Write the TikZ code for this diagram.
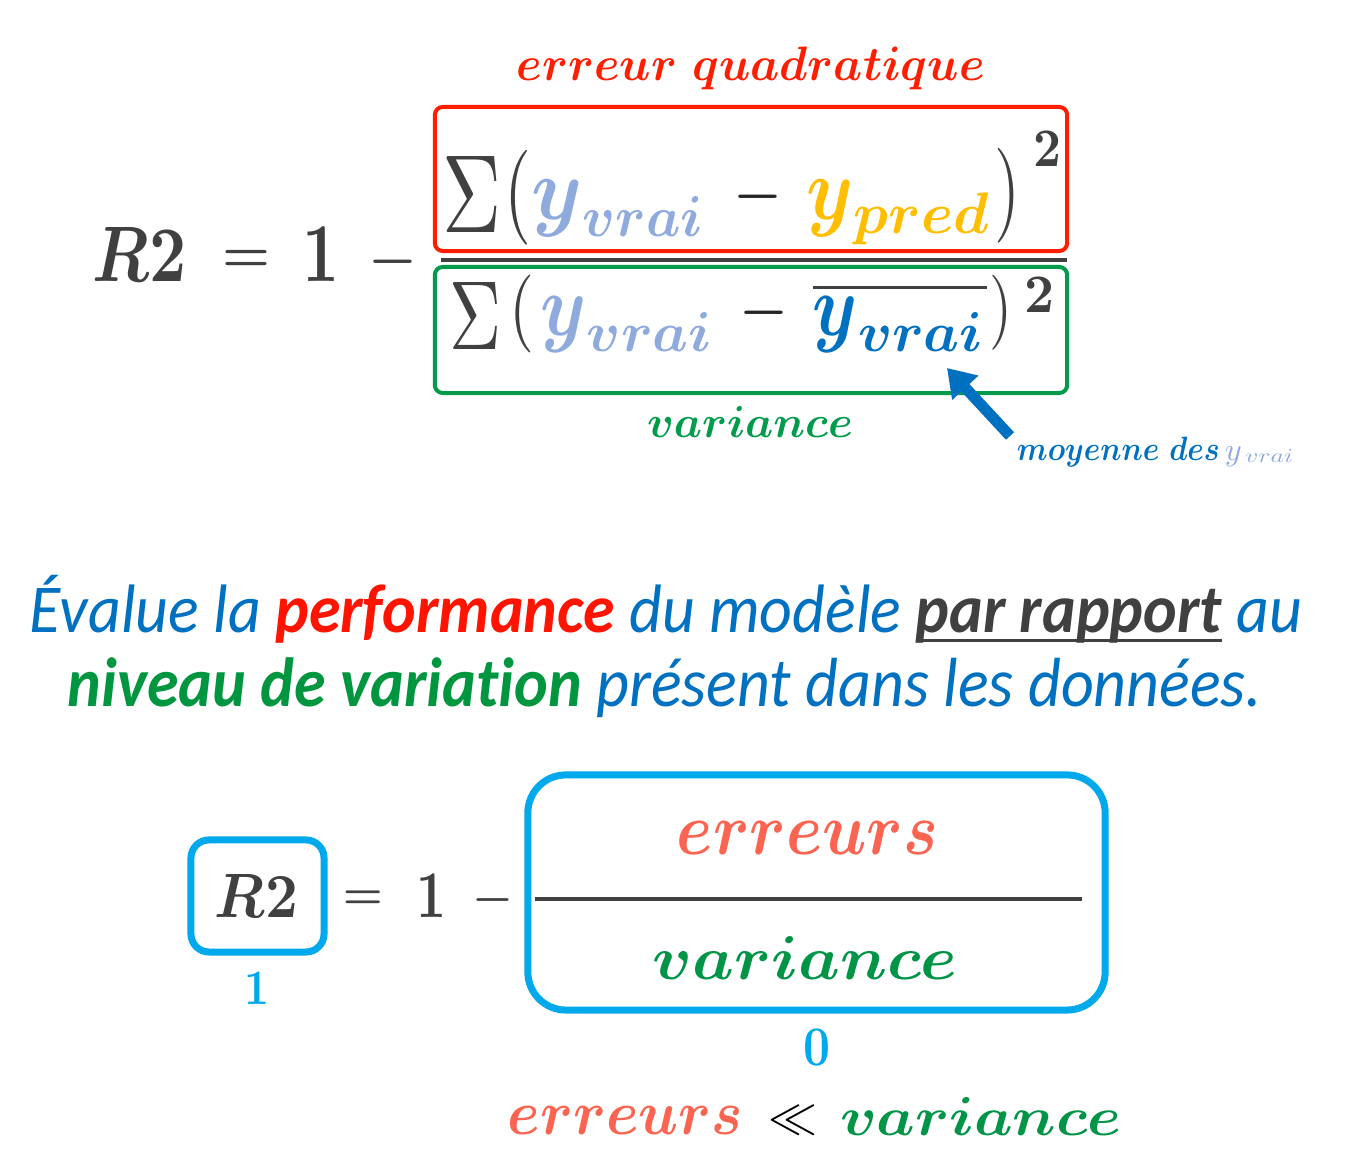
\documentclass[tikz,border=0pt]{standalone}
\usepackage{fontspec}
\usepackage{graphicx}
\usetikzlibrary{arrows.meta}
\newfontfamily\parafont[Ligatures=NoCommon]{Carlito}

% one unit of the drawing grid
\newlength\pxu \setlength\pxu{0.01cm}
% scale a piece of text to a given ink width and total height (in grid units)
\newcommand\fitto[3]{\resizebox*{#1\pxu}{#2\pxu}{#3}}
% scale a symbol to a given width, keeping its proportions
\newcommand\widthto[2]{\resizebox{#1\pxu}{!}{#2}}
\newcommand\bmath[1]{{\boldmath$#1$}}
% underlined word with a heavier rule than \underline
\newcommand\ulword[1]{\setbox0=\hbox{#1}\rlap{\rule[-0.15em]{\wd0}{0.055em}}\box0}

\definecolor{ink}{RGB}{64,64,64}
\definecolor{qred}{RGB}{255,30,0}
\definecolor{vgreen}{RGB}{0,155,75}
\definecolor{ylight}{RGB}{143,170,220}
\definecolor{ygold}{RGB}{255,190,0}
\definecolor{ydark}{RGB}{0,112,192}
\definecolor{tblue}{RGB}{0,112,192}
\definecolor{pred}{RGB}{255,20,0}
\definecolor{pgreen}{RGB}{0,150,64}
\definecolor{sky}{RGB}{0,168,236}
\definecolor{salmon}{RGB}{250,100,80}
\definecolor{bgreen}{RGB}{0,148,70}

\begin{document}
\begin{tikzpicture}[x=0.01cm,y=-0.01cm,
  g/.style={inner sep=0pt,outer sep=0pt},
  termbox/.style={draw,rectangle,inner sep=0pt,line width=0.04cm,rounded corners=0.08cm},
  skybox/.style={draw=sky,rectangle,inner sep=0pt,line width=0.07cm},
  fracline/.style={draw=ink,line width=0.04cm},
  meanarrow/.style={draw=ydark,line width=0.11cm,-{Triangle[length=0.27cm,width=0.34cm]}}]

\fill[white] (0,0) rectangle (1359,1168);
\useasboundingbox (0,0) rectangle (1359,1168);

% ---------- R2 = 1 - SSE / SST ----------
\node[g,ink] (rtwo) at (140,255) {\fitto{94}{54}{\bmath{R2}}};
\node[g,ink] (eqa) at (246,261) {\widthto{48}{\bmath{=}}};
\node[g,ink] (onea) at (321.5,255) {\fitto{37}{54}{\bmath{1}}};
\node[g,ink] (mina) at (392.5,262) {\widthto{49}{\bmath{-}}};

\node[g,qred] (lblsse) at (751,68.5) {\fitto{468}{43}{\bmath{erreur\ quadratique}}};

\node[termbox,draw=qred,minimum width=6.32cm,minimum height=1.44cm] (numbox) at (751,179) {};
\node[termbox,draw=vgreen,minimum width=6.32cm,minimum height=1.26cm] (denbox) at (751,330) {};
\coordinate (fla) at (441,260);
\coordinate (flb) at (1067,260);
\draw[fracline] (fla) -- (flb);

% numerator
\node[g,ink] (sign) at (472.5,195) {\fitto{59}{76}{$\Sigma$}};
\node[g,ink] (lpn) at (518.5,197.5) {\fitto{27}{95}{$($}};
\node[g,ylight] (yn1) at (557.5,208.5) {\fitto{51}{57}{\bmath{y}}};
\node[g,ylight] (vn1) at (643,217) {\fitto{120}{40}{\bmath{vrai}}};
\node[g,black!85] (mn) at (757.5,197) {\widthto{49}{\bmath{-}}};
\node[g,ygold] (yn2) at (830.5,208.5) {\fitto{47}{57}{\bmath{y}}};
\node[g,ygold] (pn) at (921.5,219) {\fitto{135}{52}{\bmath{pred}}};
\node[g,ink] (rpn) at (1008,195.5) {\fitto{26}{95}{$)$}};
\node[g,ink] (sqn) at (1047,149.5) {\fitto{28}{35}{\bmath{2}}};

% denominator
\node[g,ink] (sigd) at (476,316.5) {\fitto{52}{67}{$\Sigma$}};
\node[g,ink] (lpd) at (522,314) {\fitto{25}{78}{$($}};
\node[g,ylight] (yd1) at (564,325) {\fitto{46}{56}{\bmath{y}}};
\node[g,ylight] (vd1) at (649.5,332.5) {\fitto{125}{39}{\bmath{vrai}}};
\node[g,black!85] (md) at (763.5,313) {\widthto{49}{\bmath{-}}};
\node[g,ydark] (yd2) at (835.5,325) {\fitto{45}{56}{\bmath{y}}};
\node[g,ydark] (vd2) at (920.5,332.5) {\fitto{125}{39}{\bmath{vrai}}};
\node[g,ink] (rpd) at (1000.5,312.5) {\fitto{23}{75}{$)$}};
\node[g,ink] (sqd) at (1040,295.5) {\fitto{30}{35}{\bmath{2}}};
\draw[ink,line width=0.03cm] (813,288) -- (987,288);

\node[g,vgreen] (lblsst) at (750,422.5) {\fitto{206}{31}{\bmath{variance}}};

% mean annotation
\node[g,tblue] (moy) at (1118.5,452) {\fitto{203}{30}{\bmath{moyenne\ des}}};
\node[g,ylight] (moyy) at (1233.5,457) {\fitto{17}{20}{$y$}};
\node[g,ylight] (moyv) at (1269,456.5) {\fitto{48}{13}{$vrai$}};
\coordinate (atail) at (1010,436);
\coordinate (atip) at (947,368);
\draw[meanarrow] (atail) -- (atip);

% ---------- sentence ----------
\node[g] (line1) at (666,609) {\fitto{1272}{68}{\parafont\itshape\color{tblue}Évalue la {\bfseries\color{pred}performance} du modèle {\bfseries\color{ink}\ulword{par rapport}} au}};
\node[g] (line2) at (665,688) {\fitto{1194}{60}{\parafont\itshape\color{tblue}{\bfseries\color{pgreen}niveau de variation} présent dans les données.}};

% ---------- R2 = 1 - erreurs / variance ----------
\node[skybox,rounded corners=0.18cm,minimum width=1.33cm,minimum height=1.12cm] (rbox) at (257.5,896) {};
\node[g,ink] (rtwob) at (256.5,896.5) {\fitto{83}{43}{\bmath{R2}}};
\node[g,sky] (oneval) at (257.5,989) {\fitto{25}{32}{\bmath{1}}};
\node[g,ink] (eqb) at (363,900) {\widthto{40}{\bmath{=}}};
\node[g,ink] (oneb) at (432,896.5) {\fitto{30}{43}{\bmath{1}}};
\node[g,ink] (minb) at (492.5,900) {\widthto{41}{\bmath{-}}};

\node[skybox,rounded corners=0.38cm,minimum width=5.77cm,minimum height=2.35cm] (ratiobox) at (816.5,892.5) {};
\coordinate (fbl) at (535,899);
\coordinate (fbr) at (1082,899);
\draw[fracline] (fbl) -- (fbr);
\node[g,salmon] (errb) at (807.5,838.5) {\fitto{261}{33}{\bmath{erreurs}}};
\node[g,bgreen] (varb) at (805.5,958.5) {\fitto{305}{43}{\bmath{variance}}};
\node[g,sky] (zeroval) at (816.5,1048) {\fitto{27}{36}{\bmath{0}}};

\node[g,salmon] (errc) at (625.5,1121) {\fitto{235}{28}{\bmath{erreurs}}};
\node[g,black] (llc) at (792.5,1120) {\widthto{49}{$\ll$}};
\node[g,bgreen] (varc) at (981,1117) {\fitto{282}{38}{\bmath{variance}}};
\end{tikzpicture}
\end{document}
